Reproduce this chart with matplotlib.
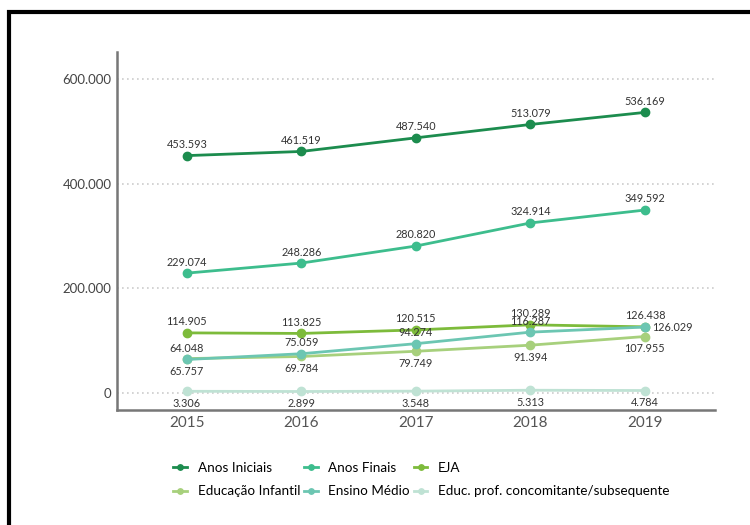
import matplotlib.pyplot as plt
from matplotlib.patches import Rectangle

plt.rcParams['font.family'] = ['Lato', 'DejaVu Sans']

anos = ['2015', '2016', '2017', '2018', '2019']

anos_iniciais = [453593, 461519, 487540, 513079, 536169]
anos_finais = [229074, 248286, 280820, 324914, 349592]
eja = [114905, 113825, 120515, 130289, 126438]
educacao_infantil = [65757, 69784, 79749, 91394, 107955]
ensino_medio = [64048, 75059, 94274, 116287, 126029]
educ_prof = [3306, 2899, 3548, 5313, 4784]

nomes = ['Anos Iniciais', 'Anos Finais', 'EJA',
         'Educação Infantil', 'Ensino Médio',
         'Educ. prof. concomitante/subsequente']
series = [anos_iniciais, anos_finais, eja,
          educacao_infantil, ensino_medio, educ_prof]
cores = ['#1c8c4e', '#3dbd8d', '#7dbb3b', '#a7d07c', '#6cc6b2', '#bfe2d4']

# onde fica o rótulo de cada ponto: acima, abaixo ou à direita
posicoes = [
    ['a'] * 5,
    ['a'] * 5,
    ['a'] * 5,
    ['b'] * 5,
    ['a', 'a', 'a', 'a', 'd'],
    ['b'] * 5,
]


def fmt(v):
    return f'{v:,}'.replace(',', '.')


fig = plt.figure(figsize=(7.5, 5.25), dpi=100)
ax = fig.add_axes([0.156, 0.219, 0.797, 0.682])

x = list(range(len(anos)))
linhas = []
for nome, vals, cor, pos in zip(nomes, series, cores, posicoes):
    ln, = ax.plot(x, vals, color=cor, lw=2, marker='o', ms=6, label=nome,
                  zorder=3)
    linhas.append(ln)
    for xi, v, p in zip(x, vals, pos):
        if p == 'a':
            off, ha, va = (0, 4), 'center', 'bottom'
        elif p == 'b':
            off, ha, va = (0, -5), 'center', 'top'
        else:
            off, ha, va = (5, 0), 'left', 'center'
        ax.annotate(fmt(v), (xi, v), xytext=off, textcoords='offset points',
                    ha=ha, va=va, fontsize=7.8, color='#333333', zorder=4)

ax.set_xlim(-0.61, 4.61)
ax.set_ylim(-32500, 651600)
ax.set_xticks(x)
ax.set_xticklabels(anos, fontsize=11, color='#555555')
ax.set_yticks([0, 200000, 400000, 600000])
ax.set_yticklabels(['0', '200.000', '400.000', '600.000'], fontsize=9.5,
                   color='#444444')
ax.tick_params(length=0, pad=4)
ax.grid(axis='y', linestyle=(0, (1, 2)), color='#cccccc', lw=1.2)
ax.set_axisbelow(True)
for s in ['top', 'right']:
    ax.spines[s].set_visible(False)
for s in ['left', 'bottom']:
    ax.spines[s].set_color('#777777')
    ax.spines[s].set_linewidth(1.8)

# legenda em duas linhas, preenchida linha a linha
ordem = [0, 3, 1, 4, 2, 5]
fig.legend([linhas[i] for i in ordem], [nomes[i] for i in ordem],
           loc='upper left', bbox_to_anchor=(0.231, 0.12), ncol=3,
           frameon=False, fontsize=9.7, handlelength=1.0, handletextpad=0.8,
           columnspacing=0.3, labelspacing=0.85, markerscale=0.65,
           borderaxespad=0, borderpad=0)

# moldura preta em volta da figura
fig.add_artist(Rectangle((0.012, -0.1), 1.2, 0.1 + 1 - 0.023,
                         transform=fig.transFigure, fill=False,
                         edgecolor='black', lw=3))

fig.savefig('out.png', dpi=100)
